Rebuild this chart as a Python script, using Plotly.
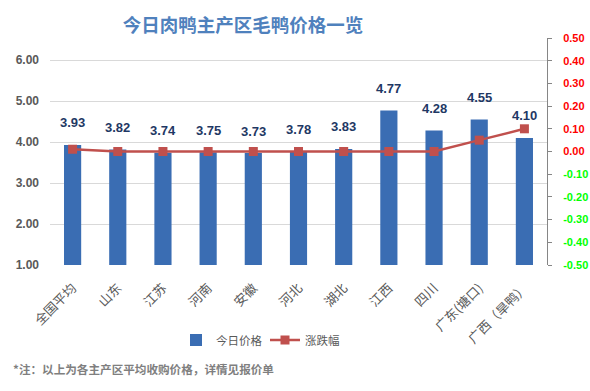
import plotly.graph_objects as go

categories = ["全国平均", "山东", "江苏", "河南", "安徽", "河北", "湖北", "江西", "四川", "广东(塘口)", "广西（旱鸭）"]
prices = [3.93, 3.82, 3.74, 3.75, 3.73, 3.78, 3.83, 4.77, 4.28, 4.55, 4.10]
changes = [0.01, 0.00, 0.00, 0.00, 0.00, 0.00, 0.00, 0.00, 0.00, 0.05, 0.10]
left_ticks = [1, 2, 3, 4, 5, 6]
right_ticks = [0.5, 0.4, 0.3, 0.2, 0.1, 0.0, -0.1, -0.2, -0.3, -0.4, -0.5]

FONT = "Noto Sans CJK SC"
NUMFONT = "Liberation Sans, sans-serif"

# plot area in pixels
PL, PR = 50, 547
PT, PB = 38, 265
PH = PB - PT
PW = PR - PL

def py(pix):
    return (PB - pix) / PH

def px(pix):
    return (pix - PL) / PW

fig = go.Figure()
fig.add_trace(go.Bar(
    x=categories, y=prices, name="今日价格",
    marker=dict(color="#3a6db3", line=dict(width=0)),
))
fig.add_trace(go.Scatter(
    x=categories, y=changes, name="涨跌幅", yaxis="y2", mode="lines+markers",
    line=dict(color="#c0504d", width=2.5),
    marker=dict(symbol="square", size=9, color="#c0504d"),
))

annotations = []
for c, v in zip(categories, prices):
    annotations.append(dict(x=c, y=v, xref="x", yref="y", text=f"<b>{v:.2f}</b>", showarrow=False,
                            yanchor="middle", yshift=22,
                            font=dict(size=13, color="#1f3864", family=NUMFONT)))
annotations.append(dict(text="<b>*注：以上为各主产区平均收购价格，详情见报价单</b>", x=px(11), y=py(369),
                        xref="paper", yref="paper", xanchor="left", yanchor="middle", showarrow=False,
                        font=dict(size=11.6, color="#7f7f7f", family=FONT)))

right_text = []
for v in right_ticks:
    col = "#ff0000" if v >= 0 else "#00ff00"
    right_text.append(f'<span style="color:{col}"><b>{v:.2f}</b></span>')

fig.update_layout(
    width=590, height=391,
    margin=dict(l=PL, r=590 - PR, t=PT, b=391 - PB, autoexpand=False),
    paper_bgcolor="white", plot_bgcolor="white",
    font=dict(family=FONT, size=12, color="#595959"),
    title=dict(text="<b>今日肉鸭主产区毛鸭价格一览</b>", x=243/590, xanchor="center",
               y=1 - 26/391, yanchor="middle",
               font=dict(size=18.5, color="#4f81bd", family=FONT)),
    bargap=0.62,
    showlegend=True,
    legend=dict(orientation="h", x=px(176), xanchor="left", y=py(340), yanchor="middle",
                font=dict(size=11.5, color="#595959", family=FONT), entrywidth=44),
    xaxis=dict(range=[-0.5, len(categories) - 0.5], tickangle=-45, showline=False, ticks="",
               ticklabelstandoff=12,
               tickfont=dict(size=13, family=FONT, color="#595959")),
    yaxis=dict(range=[1, 6.537], tickvals=left_ticks, ticktext=[f"<b>{v:.2f}</b>" for v in left_ticks],
               showgrid=True, gridcolor="#d9d9d9", gridwidth=1, zeroline=False, showline=False,
               ticks="", ticklabelstandoff=10,
               tickfont=dict(size=12, color="#595959", family=NUMFONT)),
    yaxis2=dict(overlaying="y", side="right", range=[-0.5, 0.5], tickvals=right_ticks, ticktext=right_text,
                showgrid=False, zeroline=False, showline=True, linecolor="#868686", linewidth=1,
                ticks="outside", ticklen=4, tickcolor="#868686", ticklabelstandoff=9,
                tickfont=dict(size=11, family=NUMFONT)),
    annotations=annotations,
)
fig.write_html("out.html", config={"displayModeBar": False},
               post_script="document.body.style.margin='0';")
